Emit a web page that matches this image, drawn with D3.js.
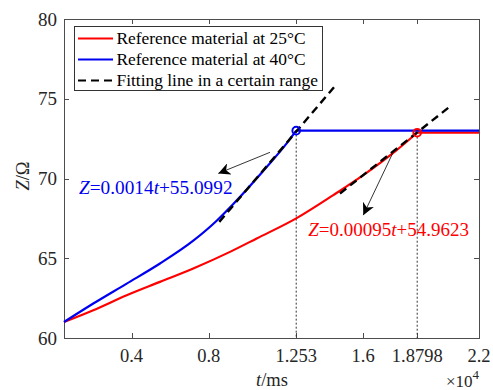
<!DOCTYPE html>
<html>
<head>
<meta charset="utf-8">
<script src="https://cdn.jsdelivr.net/npm/d3@7"></script>
<style>
body { margin: 0; background: #fff; }
svg { display: block; font-family: "Liberation Serif", "Times New Roman", serif; }
</style>
</head>
<body>
<div id="chart"></div>
<script>
/* data: t in ms, Z in ohm */
var blueT = [500, 2018, 3748, 5473, 7198, 8410, 9270, 11000, 12036, 12530];
var blueZ = [61.0, 62.16, 63.41, 64.67, 66.10, 67.35, 68.40, 70.72, 72.20, 73.0];
var blueFlatT = [12530, 22000];
var blueFlatZ = [73.0, 73.0];

var redT = [500, 2018, 3748, 5473, 7198, 9100, 10482, 12530, 14450, 16004, 17733, 18798];
var redZ = [61.0, 61.74, 62.68, 63.52, 64.36, 65.40, 66.24, 67.50, 68.96, 70.21, 71.78, 72.87];
var redFlatT = [18798, 22000];
var redFlatZ = [72.87, 72.87];

var fitBlueT = [8545, 14486];
var fitBlueZ = [67.28, 75.72];
var fitRedT = [14797, 20531];
var fitRedZ = [69.06, 74.55];

var markT = [12530, 18798];
var markZ = [73.0, 72.87];

var xTicks = [4000, 8000, 12530, 16000, 18798, 22000];
var xTickLabels = ["0.4", "0.8", "1.253", "1.6", "1.8798", "2.2"];
var yTicks = [60, 65, 70, 75, 80];

var legendLabels = ["Reference material at 25\u00b0C", "Reference material at 40\u00b0C", "Fitting line in a certain range"];

var RED = "#ff0000";
var BLUE = "#0000f0";

var svg = d3.select("#chart")
    .append("svg")
    .attr("width", 493)
    .attr("height", 390);

var plotL = 64, plotR = 479, plotT = 19, plotB = 338;

var xScale = d3.scaleLinear().domain([500, 22000]).range([plotL, plotR]);
var yScale = d3.scaleLinear().domain([60, 80]).range([plotB, plotT]);

function pts(ts, zs) { return ts.map(function(t, i) { return [t, zs[i]]; }); }

var smooth = d3.line()
    .x(function(d) { return xScale(d[0]); })
    .y(function(d) { return yScale(d[1]); })
    .curve(d3.curveMonotoneX);
var straight = d3.line()
    .x(function(d) { return xScale(d[0]); })
    .y(function(d) { return yScale(d[1]); });

/*Axis box with inward ticks on all sides*/
var axisColor = "#4d4d4d";
svg.append("rect")
    .attr("x", plotL + 0.5).attr("y", plotT + 0.5)
    .attr("width", plotR - plotL).attr("height", plotB - plotT)
    .attr("fill", "none").attr("stroke", axisColor).attr("stroke-width", 1);

var tickLen = 5;
xTicks.forEach(function(t) {
    var x = Math.round(xScale(t)) + 0.5;
    svg.append("line").attr("x1", x).attr("x2", x).attr("y1", plotB).attr("y2", plotB - tickLen).attr("stroke", axisColor);
    svg.append("line").attr("x1", x).attr("x2", x).attr("y1", plotT).attr("y2", plotT + tickLen).attr("stroke", axisColor);
});
yTicks.forEach(function(v) {
    var y = Math.round(yScale(v)) + 0.5;
    svg.append("line").attr("x1", plotL).attr("x2", plotL + tickLen).attr("y1", y).attr("y2", y).attr("stroke", axisColor);
    svg.append("line").attr("x1", plotR).attr("x2", plotR - tickLen).attr("y1", y).attr("y2", y).attr("stroke", axisColor);
});

/*Tick labels*/
svg.append("g").selectAll("text")
    .data(xTicks)
    .join("text")
    .attr("x", function(d) { return xScale(d); })
    .attr("y", 362)
    .attr("text-anchor", "middle")
    .attr("font-size", 18.5)
    .attr("fill", "#262626")
    .text(function(d, i) { return xTickLabels[i]; });

svg.append("g").selectAll("text")
    .data(yTicks)
    .join("text")
    .attr("x", 57)
    .attr("y", function(d) { return yScale(d) + 6.5; })
    .attr("text-anchor", "end")
    .attr("font-size", 19)
    .attr("fill", "#262626")
    .text(function(d) { return d; });

/*Axis titles*/
var xt = svg.append("text")
    .attr("x", 272).attr("y", 386)
    .attr("text-anchor", "middle")
    .attr("font-size", 18.5)
    .attr("fill", "#262626");
xt.append("tspan").attr("font-style", "italic").text("t");
xt.append("tspan").text("/ms");

var yt = svg.append("text")
    .attr("transform", "translate(29,176) rotate(-90)")
    .attr("text-anchor", "middle")
    .attr("font-size", 18.5)
    .attr("fill", "#262626");
yt.append("tspan").attr("font-style", "italic").text("Z");
yt.append("tspan").text("/\u03a9");

var ex = svg.append("text")
    .attr("x", 479).attr("y", 387)
    .attr("text-anchor", "end")
    .attr("font-size", 17)
    .attr("fill", "#262626");
ex.append("tspan").text("\u00d710");
ex.append("tspan").attr("dy", -8).attr("font-size", 13).text("4");

/*Dotted guide lines*/
svg.append("g").selectAll("line")
    .data(markT)
    .join("line")
    .attr("x1", function(d) { return xScale(d); })
    .attr("x2", function(d) { return xScale(d); })
    .attr("y1", function(d, i) { return yScale(markZ[i]) + 4; })
    .attr("y2", plotB)
    .attr("stroke", "#333")
    .attr("stroke-width", 1)
    .attr("stroke-dasharray", "2,2");

/*Curves*/
svg.append("path").attr("d", smooth(pts(redT, redZ)))
    .attr("fill", "none").attr("stroke", RED).attr("stroke-width", 2.2);
svg.append("path").attr("d", straight(pts(redFlatT, redFlatZ)))
    .attr("fill", "none").attr("stroke", RED).attr("stroke-width", 2.2);
svg.append("path").attr("d", smooth(pts(blueT, blueZ)))
    .attr("fill", "none").attr("stroke", BLUE).attr("stroke-width", 2.2);
svg.append("path").attr("d", straight(pts(blueFlatT, blueFlatZ)))
    .attr("fill", "none").attr("stroke", BLUE).attr("stroke-width", 2.2);

/*Fitting lines*/
svg.append("path").attr("d", straight(pts(fitBlueT, fitBlueZ)))
    .attr("fill", "none").attr("stroke", "#000").attr("stroke-width", 2.4).attr("stroke-dasharray", "8,5");
svg.append("path").attr("d", straight(pts(fitRedT, fitRedZ)))
    .attr("fill", "none").attr("stroke", "#000").attr("stroke-width", 2.4).attr("stroke-dasharray", "8,5");

/*Markers*/
svg.append("g").selectAll("circle")
    .data(markT)
    .join("circle")
    .attr("cx", function(d) { return xScale(d); })
    .attr("cy", function(d, i) { return yScale(markZ[i]); })
    .attr("r", 3.8)
    .attr("fill", "none")
    .attr("stroke", function(d, i) { return i == 0 ? BLUE : RED; })
    .attr("stroke-width", 2);

/*Annotation arrows*/
var defs = svg.append("defs");
defs.append("marker")
    .attr("id", "arrow")
    .attr("viewBox", "0 0 10 10")
    .attr("refX", 10).attr("refY", 5)
    .attr("markerWidth", 12).attr("markerHeight", 12)
    .attr("markerUnits", "userSpaceOnUse")
    .attr("orient", "auto")
    .append("path")
    .attr("d", "M0,0 L10,5 L0,10 L3,5 Z")
    .attr("fill", "#000");

var arrowFromT = [11171, 17527];
var arrowFromZ = [71.64, 71.58];
var arrowToT = [8493, 16004];
var arrowToZ = [70.32, 67.70];

svg.append("g").selectAll("line")
    .data(arrowFromT)
    .join("line")
    .attr("x1", function(d) { return xScale(d); })
    .attr("y1", function(d, i) { return yScale(arrowFromZ[i]); })
    .attr("x2", function(d, i) { return xScale(arrowToT[i]); })
    .attr("y2", function(d, i) { return yScale(arrowToZ[i]); })
    .attr("stroke", "#000")
    .attr("stroke-width", 0.8)
    .attr("marker-end", "url(#arrow)");

/*Equations*/
function equation(t, z, color, slope, icept, size) {
    var e = svg.append("text")
        .attr("x", xScale(t)).attr("y", yScale(z))
        .attr("font-size", size)
        .attr("fill", color);
    e.append("tspan").attr("font-style", "italic").text("Z");
    e.append("tspan").text("=" + slope);
    e.append("tspan").attr("font-style", "italic").text("t");
    e.append("tspan").text("+" + icept);
}
equation(1277, 69.05, BLUE, "0.0014", "55.0992", 19.3);
equation(13155, 66.40, RED, "0.00095", "54.9623", 19);

/*Legend*/
var lg = svg.append("g").attr("transform", "translate(74,26)");
lg.append("rect")
    .attr("x", 0.5).attr("y", 0.5)
    .attr("width", 248).attr("height", 64)
    .attr("fill", "#fff").attr("stroke", "#333").attr("stroke-width", 1);

var legendColors = [RED, BLUE, "#000"];
var legendDash = [null, null, "8,5"];
legendLabels.forEach(function(label, i) {
    var y = 12.5 + i * 21;
    lg.append("line")
        .attr("x1", 4).attr("x2", 39)
        .attr("y1", y).attr("y2", y)
        .attr("stroke", legendColors[i])
        .attr("stroke-width", 2.2)
        .attr("stroke-dasharray", legendDash[i]);
    lg.append("text")
        .attr("x", 42.5).attr("y", y + 5.8)
        .attr("font-size", 17.4)
        .attr("fill", "#000")
        .text(label);
});
</script>
</body>
</html>
